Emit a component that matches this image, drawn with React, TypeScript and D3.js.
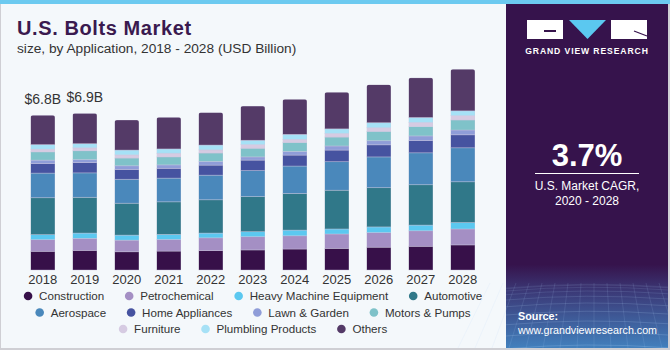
import React, { useEffect, useRef } from 'react';
import * as d3 from 'd3';

const years = ['2018', '2019', '2020', '2021', '2022', '2023', '2024', '2025', '2026', '2027', '2028'];

const construction = [0.82, 0.86, 0.80, 0.83, 0.85, 0.88, 0.92, 0.95, 1.00, 1.04, 1.10];
const petrochemical = [0.51, 0.53, 0.51, 0.51, 0.56, 0.58, 0.58, 0.63, 0.64, 0.68, 0.70];
const heavyMachine = [0.22, 0.23, 0.22, 0.22, 0.21, 0.22, 0.25, 0.22, 0.25, 0.25, 0.28];
const automotive = [1.62, 1.57, 1.40, 1.43, 1.46, 1.54, 1.61, 1.70, 1.72, 1.77, 1.79];
const aerospace = [1.08, 1.07, 1.05, 1.04, 1.08, 1.14, 1.20, 1.25, 1.35, 1.40, 1.49];
const homeAppliances = [0.42, 0.45, 0.43, 0.43, 0.44, 0.46, 0.48, 0.51, 0.53, 0.54, 0.57];
const lawnGarden = [0.15, 0.13, 0.16, 0.15, 0.16, 0.14, 0.16, 0.18, 0.18, 0.20, 0.21];
const motorsPumps = [0.36, 0.39, 0.34, 0.35, 0.37, 0.38, 0.39, 0.39, 0.41, 0.41, 0.44];
const furniture = [0.12, 0.13, 0.14, 0.16, 0.14, 0.16, 0.14, 0.16, 0.16, 0.18, 0.19];
const plumbing = [0.20, 0.18, 0.21, 0.19, 0.21, 0.19, 0.22, 0.20, 0.22, 0.22, 0.21];
const others = [1.29, 1.33, 1.32, 1.39, 1.43, 1.50, 1.54, 1.61, 1.67, 1.74, 1.83];

const seriesNames = [
  'Construction', 'Petrochemical', 'Heavy Machine Equipment', 'Automotive',
  'Aerospace', 'Home Appliances', 'Lawn & Garden', 'Motors & Pumps',
  'Furniture', 'Plumbling Products', 'Others',
];
const seriesValues = [
  construction, petrochemical, heavyMachine, automotive, aerospace,
  homeAppliances, lawnGarden, motorsPumps, furniture, plumbing, others,
];
const colours = [
  '#371049', '#a48fc4', '#5bc8f0', '#307889', '#4a88bb',
  '#4653a0', '#8f9dd8', '#7fc2c9', '#d6cbe2', '#a6e1f6', '#543a67',
];
const legendRows = [[0, 1, 2, 3], [4, 5, 6, 7], [8, 9, 10]];

const valueLabels = ['$6.8B', '$6.9B'];

const FONT = "'Liberation Sans', Arial, sans-serif";

const App: React.FC = () => {
  const svgRef = useRef<SVGSVGElement | null>(null);

  useEffect(() => {
    if (!svgRef.current) return;
    const W = 670;
    const H = 350;
    const svg = d3.select(svgRef.current);
    svg.selectAll('*').remove();

    const defs = svg.append('defs');

    // background + frame
    svg.append('rect').attr('width', W).attr('height', H).attr('fill', '#f4f8fb');
    svg.append('rect').attr('x', 0).attr('y', 0).attr('width', 1).attr('height', H).attr('fill', '#cfcfd4');
    svg.append('rect').attr('x', 0).attr('y', H - 2).attr('width', W).attr('height', 2).attr('fill', '#cfcfd4');

    // right panel
    const px = 506;
    const grad = defs.append('linearGradient').attr('id', 'panelGrad')
      .attr('x1', 0).attr('y1', 0).attr('x2', 0).attr('y2', 1);
    grad.append('stop').attr('offset', '0%').attr('stop-color', '#36134c');
    grad.append('stop').attr('offset', '76%').attr('stop-color', '#36134c');
    grad.append('stop').attr('offset', '84%').attr('stop-color', '#3b3a78');
    grad.append('stop').attr('offset', '100%').attr('stop-color', '#4280bd');
    svg.append('rect').attr('x', px).attr('y', 0).attr('width', W - px - 2).attr('height', H - 2)
      .attr('fill', 'url(#panelGrad)');
    svg.append('rect').attr('x', W - 2).attr('y', 0).attr('width', 2).attr('height', H).attr('fill', '#cfcfd4');

    // mesh at the bottom of the panel
    const mesh = svg.append('g').attr('stroke', '#b0d2f4').attr('stroke-width', 0.5).attr('fill', 'none');
    d3.range(0, 10).forEach(i => {
      const yy = 285 + i * i * 0.75;
      mesh.append('path')
        .attr('d', `M${px},${yy + 3} Q${px + 80},${yy - 4} ${W - 2},${yy + 2}`)
        .attr('opacity', 0.18 + i * 0.03);
    });
    d3.range(0, 16).forEach(i => {
      const xx = px + i * 11;
      mesh.append('path')
        .attr('d', `M${xx + (i - 8) * 2},283 L${xx + (i - 8) * 6},${H - 2}`)
        .attr('opacity', 0.25);
    });

    // top strip
    svg.append('rect').attr('x', 0).attr('y', 0).attr('width', W).attr('height', 4).attr('fill', '#6ccaf0');

    // logo
    const logo = svg.append('g');
    logo.append('rect').attr('x', 527).attr('y', 20).attr('width', 36).attr('height', 19).attr('fill', '#ffffff');
    logo.append('path').attr('d', 'M544,30 L556,30 L556,32 L544,32 Z').attr('fill', '#36134c');
    logo.append('path').attr('d', 'M569,20 L606,20 L587.5,39 Z').attr('fill', '#5bc8f0');
    logo.append('rect').attr('x', 611).attr('y', 20).attr('width', 36).attr('height', 19).attr('fill', '#ffffff');
    logo.append('path').attr('d', 'M634,31 L647,36').attr('stroke', '#36134c').attr('stroke-width', 1.2);
    logo.append('text').attr('x', 587).attr('y', 54).attr('text-anchor', 'middle')
      .attr('fill', '#ffffff').style('font-family', FONT).style('font-size', '8.6px')
      .style('font-weight', 'bold').style('letter-spacing', '0.9px')
      .text('GRAND VIEW RESEARCH');

    // CAGR
    svg.append('text').attr('x', 587).attr('y', 166).attr('text-anchor', 'middle')
      .attr('fill', '#ffffff').style('font-family', FONT).style('font-size', '31px')
      .style('font-weight', 'bold').text('3.7%');
    svg.append('line').attr('x1', 535).attr('x2', 639).attr('y1', 173.5).attr('y2', 173.5)
      .attr('stroke', '#ffffff').attr('stroke-width', 1);
    svg.append('text').attr('x', 587).attr('y', 190).attr('text-anchor', 'middle')
      .attr('fill', '#ffffff').style('font-family', FONT).style('font-size', '12px')
      .text('U.S. Market CAGR,');
    svg.append('text').attr('x', 587).attr('y', 205).attr('text-anchor', 'middle')
      .attr('fill', '#ffffff').style('font-family', FONT).style('font-size', '12px')
      .text('2020 - 2028');

    // source
    svg.append('text').attr('x', 518).attr('y', 320)
      .attr('fill', '#ffffff').style('font-family', FONT).style('font-size', '10.8px')
      .style('font-weight', 'bold').text('Source:');
    svg.append('text').attr('x', 518).attr('y', 334)
      .attr('fill', '#ffffff').style('font-family', FONT).style('font-size', '10.7px')
      .text('www.grandviewresearch.com');

    // title
    svg.append('text').attr('x', 17).attr('y', 35)
      .attr('fill', '#3a1a4f').style('font-family', FONT).style('font-size', '20px')
      .style('font-weight', 'bold').style('letter-spacing', '0.6px').text('U.S. Bolts Market');
    svg.append('text').attr('x', 17).attr('y', 53)
      .attr('fill', '#333333').style('font-family', FONT).style('font-size', '13.7px')
      .text('size, by Application, 2018 - 2028 (USD Billion)');

    // scales
    const x = d3.scaleBand()
      .domain(years)
      .range([21.8, 483.8])
      .paddingInner(0.42)
      .paddingOuter(0.21);

    const y = d3.scaleLinear()
      .domain([0, 9])
      .range([270, 270 - 9 * 22.8]);

    const table = years.map((yr, i) => {
      const row: Record<string, number | string> = { year: yr };
      seriesNames.forEach((n, k) => { row[n] = seriesValues[k][i]; });
      return row;
    });
    const stacked = d3.stack<Record<string, number | string>>().keys(seriesNames)(table);

    // clip for rounded tops
    years.forEach((yr, i) => {
      const top = stacked[stacked.length - 1][i][1];
      defs.append('clipPath').attr('id', `clip-${yr}`)
        .append('rect')
        .attr('x', x(yr)!)
        .attr('y', y(top))
        .attr('width', x.bandwidth())
        .attr('height', y(0) - y(top) + 6)
        .attr('rx', 2.5);
    });

    const bars = svg.append('g');
    stacked.forEach((layer, k) => {
      layer.forEach((d, i) => {
        const yr = years[i];
        bars.append('rect')
          .attr('clip-path', `url(#clip-${yr})`)
          .attr('x', x(yr)!)
          .attr('y', y(d[1]))
          .attr('width', x.bandwidth())
          .attr('height', y(d[0]) - y(d[1]))
          .attr('fill', colours[k])
          .attr('stroke', 'rgba(200,196,220,0.55)')
          .attr('stroke-width', 0.7);
      });
    });

    // value labels
    valueLabels.forEach((lbl, i) => {
      const top = stacked[stacked.length - 1][i][1];
      svg.append('text')
        .attr('x', x(years[i])! + x.bandwidth() / 2)
        .attr('y', y(top) - 11)
        .attr('text-anchor', 'middle')
        .attr('fill', '#333333')
        .style('font-family', FONT)
        .style('font-size', '14px')
        .text(lbl);
    });

    // x axis labels
    const xAxis = svg.append('g')
      .attr('transform', 'translate(0,270)')
      .call(d3.axisBottom(x).tickSize(0).tickPadding(5));
    xAxis.select('.domain').remove();
    xAxis.selectAll('text')
      .attr('fill', '#333333')
      .style('font-family', FONT)
      .style('font-size', '13px');

    // legend
    const rowY = [296, 312.5, 329];
    legendRows.forEach((row, r) => {
      const g = svg.append('g');
      let cx = 0;
      row.forEach((k, j) => {
        const item = g.append('g').attr('transform', `translate(${cx},0)`);
        item.append('circle').attr('cx', 0).attr('cy', 0).attr('r', 4.3).attr('fill', colours[k]);
        const t = item.append('text').attr('x', 11).attr('y', 4.2)
          .attr('fill', '#333333')
          .style('font-family', FONT)
          .style('font-size', '11.6px')
          .text(seriesNames[k]);
        const tw = (t.node() as SVGTextElement).getComputedTextLength();
        cx += 11 + tw + (j < row.length - 1 ? 25 : 0);
      });
      const left = 253 - (cx + 4.3) / 2 + 4.3;
      g.attr('transform', `translate(${left},${rowY[r]})`);
    });
  }, []);

  return (
    <div style={{ position: 'absolute', left: 0, top: 0, width: 670, height: 350 }}>
      <svg ref={svgRef} width={670} height={350} style={{ display: 'block' }} />
    </div>
  );
};

export default App;
